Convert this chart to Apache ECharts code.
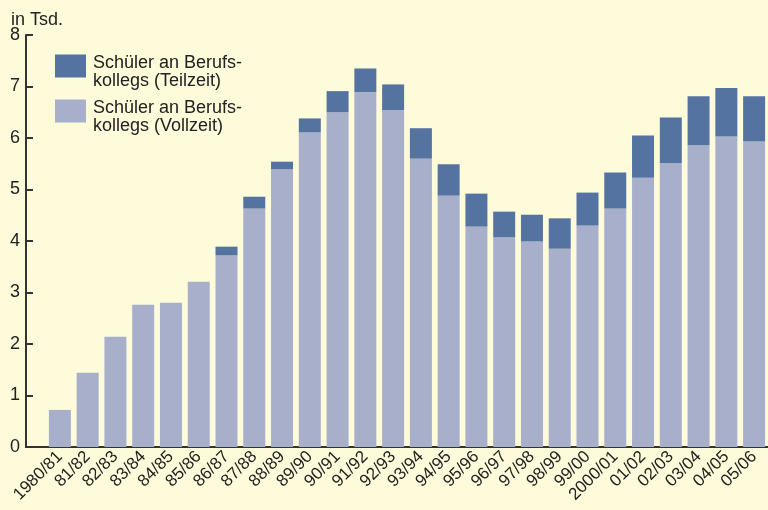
<!DOCTYPE html>
<html>
<head>
<meta charset="utf-8">
<script src="https://cdn.jsdelivr.net/npm/echarts@6/dist/echarts.min.js"></script>
<style>
  html, body { margin: 0; padding: 0; background: #fefbda; }
  #chart { width: 768px; height: 510px; }
</style>
</head>
<body>
<div id="chart"></div>
<script>
var years = ['1980/81','81/82','82/83','83/84','84/85','85/86','86/87','87/88','88/89','89/90',
    '90/91','91/92','92/93','93/94','94/95','95/96','96/97','97/98','98/99','99/00',
    '2000/01','01/02','02/03','03/04','04/05','05/06'];

// Vollzeit (unten)
var vollzeit = [0.72, 1.44, 2.14, 2.76, 2.80, 3.21, 3.72, 4.63, 5.39, 6.11,
    6.50, 6.89, 6.54, 5.60, 4.88, 4.28, 4.07, 3.99, 3.85, 4.30,
    4.63, 5.23, 5.51, 5.86, 6.03, 5.93];

// Teilzeit (oben drauf)
var teilzeit = [0, 0, 0, 0, 0, 0, 0.17, 0.23, 0.15, 0.27,
    0.41, 0.46, 0.50, 0.59, 0.61, 0.64, 0.50, 0.52, 0.59, 0.64,
    0.70, 0.82, 0.89, 0.95, 0.94, 0.88];

var nameTeil = 'Schüler an Berufs-\nkollegs (Teilzeit)';
var nameVoll = 'Schüler an Berufs-\nkollegs (Vollzeit)';

var font = 'Liberation Sans';
var chart = echarts.init(document.getElementById('chart'));

chart.setOption({
    backgroundColor: '#fefbda',
    animation: false,
    title: {
        text: 'in Tsd.',
        left: 6, top: 6,
        textStyle: { fontFamily: font, fontSize: 18, fontWeight: 'normal', color: '#222' }
    },
    legend: {
        orient: 'vertical',
        left: 50, top: 37,
        itemWidth: 31, itemHeight: 23,
        itemGap: -3,
        icon: 'rect',
        data: [nameTeil, nameVoll],
        // leere erste Zeile schiebt den Text etwas nach unten
        formatter: function (name) {
            return '{s| }\n' + name.split('\n').map(function (l) { return '{a|' + l + '}'; }).join('\n');
        },
        textStyle: {
            fontFamily: font, fontSize: 18, color: '#222', padding: [0, 0, 0, 2],
            rich: {
                s: { fontSize: 12, lineHeight: 12, height: 12 },
                a: { fontFamily: font, fontSize: 18, lineHeight: 18, color: '#222' }
            }
        }
    },
    grid: { left: 46, top: 35, bottom: 63, width: 730.6 },
    xAxis: {
        type: 'category',
        data: years,
        axisLine: { lineStyle: { color: '#333', width: 2 } },
        axisTick: { show: false },
        axisLabel: { rotate: 45, interval: 0, margin: 7, fontFamily: font, fontSize: 17, color: '#222' }
    },
    yAxis: {
        type: 'value',
        min: 0, max: 8, interval: 1,
        offset: 20,
        axisLine: { show: true, lineStyle: { color: '#333', width: 2 } },
        axisTick: { show: true, inside: true, length: 7, lineStyle: { color: '#333', width: 2 } },
        splitLine: { show: false },
        axisLabel: { margin: 6, fontFamily: font, fontSize: 18, color: '#222' }
    },
    graphic: [{
        type: 'line',
        shape: { x1: 25, y1: 447, x2: 47, y2: 447 },
        style: { stroke: '#333', lineWidth: 2 }
    }],
    series: [
        {
            name: nameVoll, type: 'bar', stack: 'all', barWidth: 22,
            itemStyle: { color: '#a7afcb' },
            data: vollzeit
        },
        {
            name: nameTeil, type: 'bar', stack: 'all', barWidth: 22,
            itemStyle: { color: '#5473a1' },
            data: teilzeit
        }
    ]
});
</script>
</body>
</html>
